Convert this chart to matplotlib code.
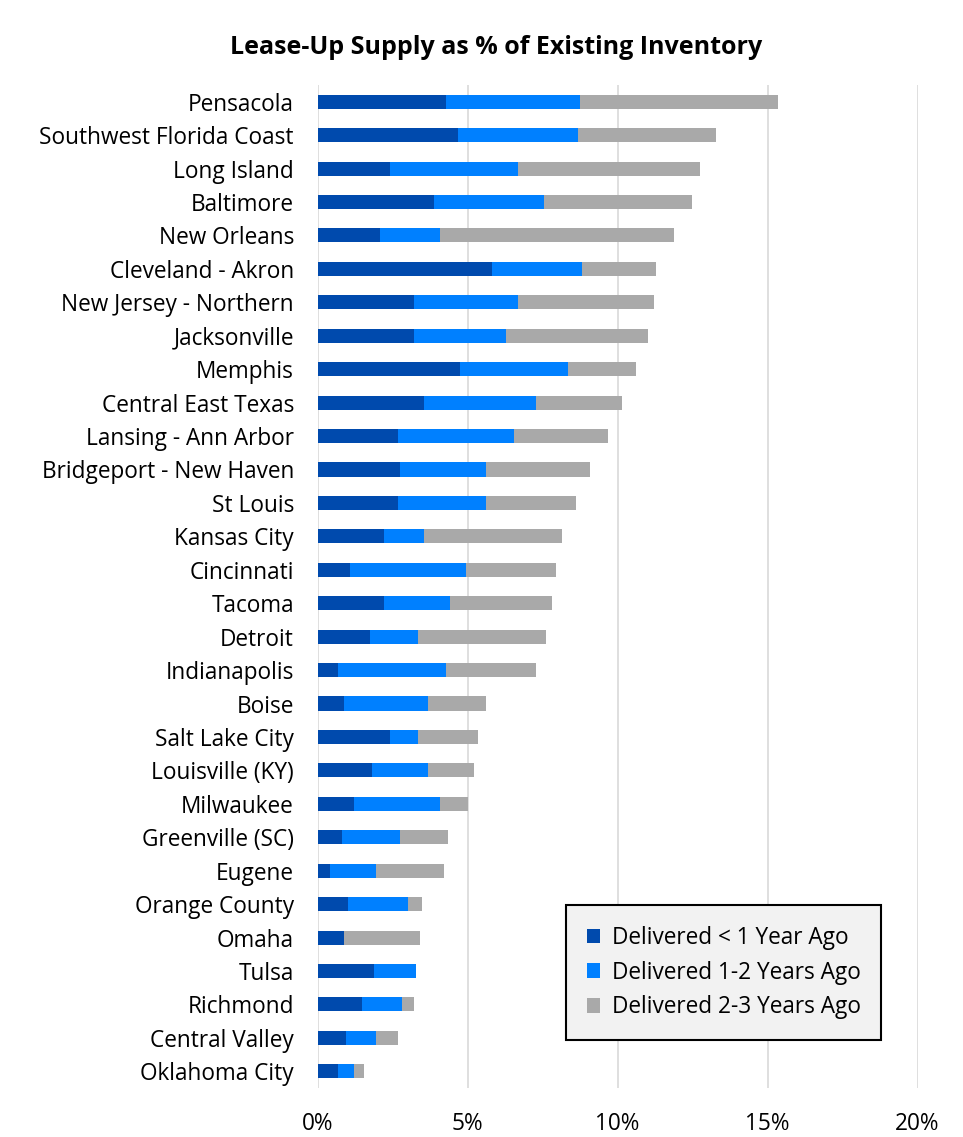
import matplotlib
matplotlib.use("Agg")
import matplotlib.pyplot as plt
import numpy as np

plt.rcParams['font.family'] = ['Open Sans', 'DejaVu Sans']

markets = ["Pensacola", "Southwest Florida Coast", "Long Island", "Baltimore", "New Orleans",
           "Cleveland - Akron", "New Jersey - Northern", "Jacksonville", "Memphis",
           "Central East Texas", "Lansing - Ann Arbor", "Bridgeport - New Haven", "St Louis",
           "Kansas City", "Cincinnati", "Tacoma", "Detroit", "Indianapolis", "Boise",
           "Salt Lake City", "Louisville (KY)", "Milwaukee", "Greenville (SC)", "Eugene",
           "Orange County", "Omaha", "Tulsa", "Richmond", "Central Valley", "Oklahoma City"]

lt1 = [4.28, 4.68, 2.42, 3.88, 2.08, 5.82, 3.22, 3.22, 4.75, 3.55, 2.68, 2.75, 2.68, 2.22,
       1.08, 2.22, 1.75, 0.68, 0.88, 2.42, 1.82, 1.22, 0.82, 0.42, 1.02, 0.88, 1.88, 1.48,
       0.95, 0.68]
y1_2 = [4.47, 4.00, 4.26, 3.67, 2.00, 3.00, 3.46, 3.06, 3.60, 3.73, 3.87, 2.87, 2.94, 1.33,
        3.87, 2.20, 1.60, 3.60, 2.80, 0.93, 1.86, 2.86, 1.93, 1.53, 2.00, 0.00, 1.40, 1.34,
        1.00, 0.54]
y2_3 = [6.60, 4.60, 6.07, 4.93, 7.80, 2.46, 4.54, 4.74, 2.27, 2.87, 3.13, 3.46, 3.00, 4.60,
        3.00, 3.40, 4.27, 3.00, 1.94, 2.00, 1.54, 0.94, 1.60, 2.27, 0.46, 2.54, 0.00, 0.40,
        0.73, 0.33]

series_names = ["Delivered < 1 Year Ago", "Delivered 1-2 Years Ago", "Delivered 2-3 Years Ago"]
colors = ["#004AAD", "#0080FF", "#A9A9A9"]
xticks = [0, 5, 10, 15, 20]
xtick_labels = ["0%", "5%", "10%", "15%", "20%"]

fig = plt.figure(figsize=(9.63, 11.37), dpi=100)
ax = fig.add_axes([317.5/963, 1 - 1088/1137, 600/963, (1088-85)/1137])

y = np.arange(len(markets))
left = np.zeros(len(markets))
for vals, name, c in zip([lt1, y1_2, y2_3], series_names, colors):
    v = np.array(vals)
    ax.barh(y, v, left=left, height=0.42, color=c, label=name, zorder=3)
    left = left + v

FS = 16.3
ax.set_ylim(len(markets) - 0.5, -0.5)
ax.set_xlim(0, 20)
ax.set_yticks(y)
ax.set_yticklabels(markets, fontsize=FS, color="#000000")
ax.set_xticks(xticks)
ax.set_xticklabels(xtick_labels, fontsize=FS, color="#000000")
ax.tick_params(axis='y', length=0, pad=17)
ax.tick_params(axis='x', length=0, pad=17)
for s in ax.spines.values():
    s.set_visible(False)
ax.grid(axis='x', color="#D9D9D9", linewidth=1.2, zorder=0)
ax.set_axisbelow(True)

leg = ax.legend(loc='lower right', bbox_to_anchor=(0.939, 0.048), fontsize=FS,
                frameon=True, fancybox=False, facecolor="#F2F2F2", edgecolor="#000000",
                handlelength=0.6, handleheight=0.6, handletextpad=0.5, labelspacing=0.48,
                borderpad=0.9, borderaxespad=0)
leg.get_frame().set_linewidth(1.5)
leg.get_frame().set_alpha(1)

fig.text(496/963, 1 - 48/1137, "Lease-Up Supply as % of Existing Inventory",
         ha='center', va='center', fontsize=18, fontweight='bold')

fig.savefig("out.png", dpi=100)
